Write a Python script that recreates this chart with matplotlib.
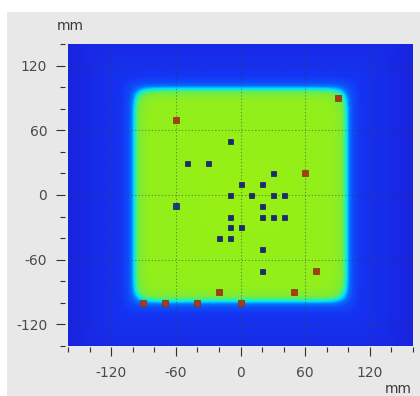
import numpy as np
import matplotlib
matplotlib.use("Agg")
import matplotlib.pyplot as plt
from matplotlib.colors import LinearSegmentedColormap
from matplotlib.patches import Rectangle

plt.rcParams["axes.unicode_minus"] = False

# field profile (distance from centre in mm -> relative level)
profile_mm = [0, 86, 93, 96, 98, 100, 102, 105, 112, 160]
profile_level = [1.0, 0.96, 0.86, 0.72, 0.52, 0.38, 0.24, 0.15, 0.09, 0.03]

# detector points (mm)
blue_x = [-10, -50, -30, 30, 0, 20, -10, 10, 30, 40, 20, -10, 20, 30, 40, -10, 0, -20, -10, 20, 20]
blue_y = [50, 30, 30, 20, 10, 10, 0, 0, 0, 0, -10, -20, -20, -20, -20, -30, -30, -40, -40, -50, -70]
big_blue_x = [-60]
big_blue_y = [-10]
red_x = [-60, 90, 60, 70, -20, 50, -90, -70, -40, 0]
red_y = [70, 90, 20, -70, -90, -90, -100, -100, -100, -100]

ticks = [-120, -60, 0, 60, 120]

fig = plt.figure(figsize=(4.2, 3.96), dpi=100)
fig.patch.set_facecolor("white")
fig.patches.append(Rectangle((7 / 420, 0), 1, 1 - 12 / 396, transform=fig.transFigure,
                             facecolor="#e8e8e8", edgecolor="none", zorder=-10))

ax = fig.add_axes([68 / 420, 50 / 396, 345 / 420, 302 / 396])

cmap = LinearSegmentedColormap.from_list("dose", [
    (0.0, "#1c1cd6"), (0.1, "#1436f5"), (0.3, "#0084ff"), (0.45, "#00e4ff"),
    (0.62, "#40f080"), (0.85, "#80ec32"), (1.0, "#98f014")])

gx = np.linspace(-160, 160, 321)
gy = np.linspace(-140, 140, 281)
X, Y = np.meshgrid(gx, gy)
R = (np.abs(X) ** 16 + np.abs(Y) ** 16) ** (1 / 16)
field = np.interp(R, profile_mm, profile_level)
ax.imshow(field, extent=[-160, 160, -140, 140], origin="lower", cmap=cmap,
          vmin=0, vmax=1, aspect="auto", interpolation="bilinear", zorder=0)

ax.plot(blue_x, blue_y, "s", color="#1a2a78", ms=3.6, mec="#14205c", mew=0.5, zorder=3)
ax.plot(big_blue_x, big_blue_y, "s", color="#1a3a8c", ms=4.6, mec="#14205c", mew=0.5, zorder=3)
ax.plot(red_x, red_y, "s", color="#a83c12", ms=4.2, mec="#8a2e0c", mew=0.5, zorder=3)

ax.set_xlim(-159, 158)
ax.set_ylim(-140, 140)
ax.set_xticks(ticks)
ax.set_yticks(ticks)
ax.set_xticks(np.arange(-160, 161, 20), minor=True)
ax.set_yticks(np.arange(-140, 141, 20), minor=True)
ax.grid(True, which="major", color="#3a3a3a", alpha=0.6, linestyle=(0, (1, 2)), linewidth=0.8)

for s in ax.spines.values():
    s.set_visible(False)
ax.spines["left"].set_position(("outward", 2))
ax.spines["bottom"].set_position(("outward", 1))

ax.tick_params(which="major", length=6.5, width=0.8, color="#303030",
               labelsize=10, labelcolor="#4a4a4a")
ax.tick_params(axis="y", which="major", pad=6.5)
ax.tick_params(axis="x", which="major", pad=7)
ax.tick_params(which="minor", length=3.8, width=0.8, color="#303030")

fig.text(70 / 420, 1 - 26 / 396, "mm", ha="center", va="center", fontsize=10, color="#3a3a3a")
fig.text(398 / 420, 7 / 396, "mm", ha="center", va="center", fontsize=10, color="#3a3a3a")

fig.savefig("out.png", dpi=100, facecolor=fig.get_facecolor())
